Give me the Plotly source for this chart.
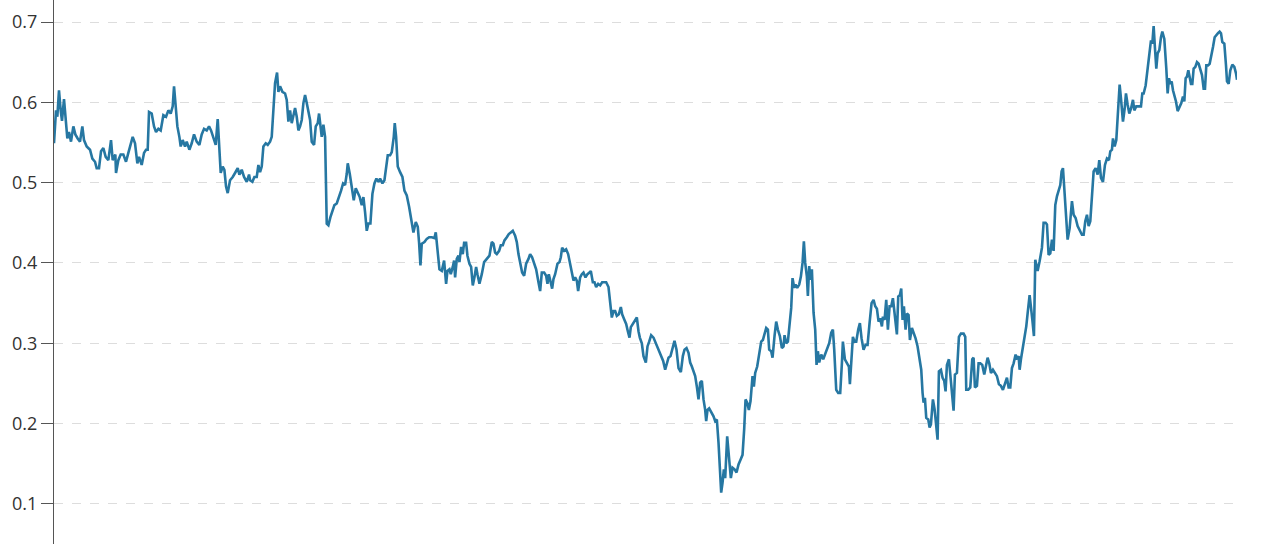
import plotly.graph_objects as go

# ---- data ----
days_1 = [0.0, 1.2, 2.0, 3.0, 4.0, 4.8, 6.0, 7.0, 8.0, 9.0, 10.2, 11.6, 12.8, 14.2, 15.6, 17.0, 18.0, 19.6, 21.6, 23.0,
          24.6, 25.6, 27.0, 28.2, 29.6, 31.0, 32.6, 34.2, 35.2, 36.8, 37.2, 38.6, 40.0, 41.6, 43.2, 44.6, 45.6, 47.2, 48.6, 50.0,
          51.0, 52.6, 54.0, 55.2, 56.2, 57.0, 58.6, 60.0, 61.2, 62.6, 64.0, 65.6, 67.2, 68.6, 70.0, 71.2, 72.0, 73.0, 74.0, 75.2,
          76.0, 77.2, 78.6, 79.6, 81.2, 82.6, 84.0, 85.6, 87.2, 88.6, 90.0, 91.6, 93.0, 94.2, 95.6, 97.0, 98.2, 99.2, 100.0, 101.2,
          102.2, 103.2, 104.2, 105.6, 107.2, 108.6, 110.2, 111.2, 112.6, 114.0, 115.6, 117.0]
vals_1 = [0.549, 0.590, 0.582, 0.615, 0.590, 0.577, 0.604, 0.583, 0.555, 0.563, 0.551, 0.570, 0.560, 0.555, 0.551, 0.570, 0.553, 0.545, 0.541, 0.530,
          0.526, 0.518, 0.518, 0.539, 0.543, 0.532, 0.528, 0.553, 0.528, 0.535, 0.512, 0.528, 0.535, 0.535, 0.526, 0.537, 0.545, 0.557, 0.549, 0.524,
          0.532, 0.522, 0.537, 0.541, 0.541, 0.588, 0.586, 0.570, 0.563, 0.567, 0.565, 0.584, 0.582, 0.590, 0.586, 0.595, 0.620, 0.590, 0.570, 0.557,
          0.545, 0.553, 0.545, 0.551, 0.541, 0.549, 0.560, 0.551, 0.547, 0.560, 0.567, 0.565, 0.570, 0.565, 0.557, 0.547, 0.579, 0.545, 0.512, 0.520,
          0.516, 0.495, 0.487, 0.503, 0.507, 0.512, 0.518, 0.510, 0.516, 0.507, 0.501, 0.510]

days_2 = [117.6, 119.0, 120.2, 121.6, 122.6, 123.6, 124.6, 125.6, 127.0, 128.2, 129.6, 130.6, 131.6, 132.6, 133.8, 134.6, 135.6, 137.0, 138.6, 139.6,
          140.6, 141.6, 142.6, 143.6, 144.6, 145.6, 146.6, 147.6, 148.6, 149.6, 150.6, 151.6, 152.6, 153.6, 154.6, 156.0, 157.0, 158.2, 159.0, 159.8,
          160.6, 161.6, 162.6, 163.6, 164.6, 165.8, 167.0, 168.2, 169.6, 171.0, 172.2, 173.4, 174.6, 175.6, 176.2, 177.4, 178.6, 179.8, 181.0, 182.2,
          183.4, 184.6, 185.6, 186.6, 187.6, 188.6, 189.8, 191.0, 192.2, 193.4, 194.6, 195.6, 197.0, 198.2, 199.2, 200.2, 201.6, 202.6, 203.8, 204.4,
          205.2, 206.2, 207.6, 209.0, 210.2, 211.6, 213.0, 214.2, 215.6, 217.0, 218.2, 219.0, 219.8, 220.6, 222.2, 223.6, 225.0, 226.6, 228.2, 229.0,
          230.0, 231.2, 232.6, 233.8]
vals_2 = [0.503, 0.501, 0.507, 0.507, 0.522, 0.513, 0.520, 0.545, 0.549, 0.547, 0.551, 0.557, 0.590, 0.624, 0.637, 0.613, 0.620, 0.613, 0.611, 0.603,
          0.576, 0.590, 0.574, 0.584, 0.593, 0.582, 0.565, 0.570, 0.578, 0.599, 0.609, 0.599, 0.586, 0.578, 0.551, 0.547, 0.570, 0.574, 0.586, 0.574,
          0.557, 0.572, 0.557, 0.449, 0.447, 0.457, 0.465, 0.472, 0.474, 0.482, 0.490, 0.499, 0.497, 0.511, 0.524, 0.511, 0.493, 0.478, 0.493, 0.488,
          0.482, 0.472, 0.482, 0.463, 0.440, 0.449, 0.449, 0.486, 0.499, 0.505, 0.501, 0.505, 0.499, 0.503, 0.520, 0.534, 0.534, 0.538, 0.557, 0.574,
          0.557, 0.520, 0.513, 0.507, 0.490, 0.484, 0.470, 0.457, 0.438, 0.451, 0.445, 0.425, 0.397, 0.424, 0.426, 0.430, 0.432, 0.432, 0.431, 0.438,
          0.415, 0.392, 0.390, 0.403]

days_3 = [234.0, 235.2, 236.0, 237.2, 238.0, 239.2, 240.0, 240.6, 241.6, 242.6, 243.2, 244.2, 245.2, 246.0, 247.2, 248.0, 249.2, 250.2, 251.2, 252.2,
          253.2, 254.0, 255.2, 256.6, 258.0, 259.6, 261.2, 262.6, 263.6, 264.6, 265.6, 267.0, 268.0, 269.2, 270.2, 271.6, 272.8, 274.0, 275.2, 276.6,
          277.6, 278.6, 279.6, 280.8, 282.0, 283.2, 284.6, 285.6, 286.8, 288.0, 289.2, 290.6, 291.6, 292.6, 294.0, 295.2, 296.0, 296.8, 298.0, 298.8,
          299.6, 300.6, 302.0, 303.2, 304.0, 304.8, 306.0, 307.2, 308.4, 309.6, 310.8, 311.6, 312.6, 313.6, 314.4, 315.6, 316.6, 317.6, 318.8, 320.0,
          321.2, 322.0, 323.2, 324.2, 325.2, 326.4, 327.6, 328.8, 330.0, 331.2, 332.6, 333.6, 334.6, 335.6, 336.6, 337.6, 338.8, 340.0, 340.8, 342.0,
          343.2, 344.2, 345.2, 346.0, 347.2, 348.6, 349.6, 350.6, 351.4]
vals_3 = [0.403, 0.374, 0.390, 0.392, 0.386, 0.395, 0.403, 0.382, 0.405, 0.409, 0.401, 0.420, 0.411, 0.425, 0.425, 0.409, 0.399, 0.395, 0.372, 0.382,
          0.395, 0.386, 0.374, 0.386, 0.401, 0.405, 0.409, 0.426, 0.424, 0.413, 0.411, 0.415, 0.422, 0.422, 0.428, 0.432, 0.436, 0.438, 0.440, 0.434,
          0.426, 0.411, 0.399, 0.388, 0.384, 0.399, 0.405, 0.411, 0.407, 0.399, 0.392, 0.376, 0.365, 0.388, 0.388, 0.384, 0.374, 0.386, 0.372, 0.368,
          0.380, 0.386, 0.399, 0.401, 0.407, 0.419, 0.415, 0.417, 0.411, 0.399, 0.384, 0.378, 0.382, 0.378, 0.365, 0.382, 0.386, 0.388, 0.382, 0.386,
          0.388, 0.390, 0.376, 0.376, 0.370, 0.374, 0.372, 0.376, 0.376, 0.376, 0.370, 0.349, 0.332, 0.340, 0.340, 0.334, 0.336, 0.345, 0.336, 0.330,
          0.324, 0.315, 0.307, 0.320, 0.324, 0.328, 0.332, 0.315, 0.307]

days_4 = [352.6, 353.6, 355.0, 356.0, 357.0, 358.2, 359.6, 361.0, 362.2, 363.2, 364.2, 365.4, 366.6, 367.8, 368.6, 369.8, 371.0, 372.2, 373.4, 374.6,
          376.0, 377.2, 378.2, 379.4, 380.6, 381.6, 382.6, 383.8, 384.6, 385.6, 386.6, 387.6, 388.6, 389.6, 390.6, 391.2, 392.0, 393.0, 394.2, 395.6,
          396.6, 397.6, 398.6, 399.6, 400.2, 401.0, 401.8, 402.6, 403.8, 405.0, 406.0, 407.0, 408.2, 409.4, 410.6, 411.8, 413.0, 414.0, 414.8, 415.8,
          416.8, 417.8, 419.0, 419.8, 420.6, 421.8, 423.0, 424.2, 425.2, 426.2, 427.2, 428.2, 429.0, 430.2, 431.0, 432.2, 433.2, 434.2, 435.4, 436.6,
          437.6, 438.2, 439.2, 440.2, 441.2, 442.2, 443.0, 444.0, 444.8, 445.8, 447.0, 448.0, 449.0, 449.8, 450.6, 451.6, 452.2, 453.0, 453.8, 454.6,
          455.6, 456.6, 457.4, 458.2, 459.0, 460.2, 461.4, 462.6, 463.8, 465.0, 466.2, 467.2]
vals_4 = [0.300, 0.284, 0.276, 0.296, 0.302, 0.310, 0.307, 0.300, 0.294, 0.290, 0.284, 0.278, 0.267, 0.276, 0.282, 0.284, 0.294, 0.303, 0.292, 0.269,
          0.264, 0.284, 0.292, 0.294, 0.288, 0.276, 0.271, 0.263, 0.259, 0.246, 0.230, 0.251, 0.253, 0.230, 0.217, 0.203, 0.217, 0.219, 0.215, 0.209,
          0.203, 0.205, 0.176, 0.139, 0.114, 0.126, 0.143, 0.132, 0.184, 0.155, 0.132, 0.145, 0.143, 0.139, 0.149, 0.155, 0.161, 0.193, 0.230, 0.226,
          0.217, 0.228, 0.259, 0.246, 0.263, 0.271, 0.288, 0.302, 0.304, 0.313, 0.319, 0.317, 0.292, 0.290, 0.282, 0.309, 0.327, 0.317, 0.309, 0.294,
          0.296, 0.310, 0.300, 0.302, 0.325, 0.344, 0.381, 0.369, 0.373, 0.369, 0.373, 0.383, 0.400, 0.427, 0.400, 0.383, 0.359, 0.396, 0.379, 0.392,
          0.338, 0.317, 0.273, 0.290, 0.276, 0.286, 0.280, 0.286, 0.292, 0.300, 0.313, 0.317]

days_5 = [468.0, 469.2, 470.4, 471.6, 472.6, 473.2, 474.4, 475.6, 476.8, 477.4, 478.2, 479.2, 480.2, 481.2, 482.4, 483.4, 484.4, 485.6, 486.8, 488.0,
          489.2, 490.4, 491.6, 492.6, 493.6, 494.6, 495.6, 496.6, 497.2, 498.2, 499.2, 500.2, 501.2, 502.2, 503.2, 504.0, 505.0, 505.6, 506.4, 507.4,
          508.2, 509.0, 509.8, 510.8, 511.6, 512.6, 513.4, 514.6, 515.6, 516.8, 518.0, 519.2, 520.2, 521.0, 521.6, 522.4, 523.2, 524.4, 525.2, 526.0,
          527.2, 528.2, 529.2, 530.0, 530.8, 532.0, 533.0, 534.0, 534.8, 535.6, 536.8, 538.0, 538.8, 539.6, 540.4, 541.6, 542.8, 544.0, 545.6, 546.6,
          547.2, 548.4, 549.6, 550.8, 551.6, 552.4, 553.6, 554.6, 555.6, 556.8, 558.0, 559.0, 560.0, 561.0, 562.0, 563.2, 564.4, 565.6, 566.8, 568.0,
          569.2, 570.2, 571.6, 572.6, 573.6, 574.6, 575.6, 576.8, 577.6, 578.6, 579.2, 580.0, 581.2, 582.2, 583.2, 584.2, 585.2, 586.8, 587.8]
vals_5 = [0.292, 0.242, 0.238, 0.238, 0.275, 0.302, 0.280, 0.275, 0.271, 0.249, 0.271, 0.308, 0.302, 0.302, 0.317, 0.325, 0.306, 0.292, 0.298, 0.298,
          0.325, 0.350, 0.354, 0.346, 0.343, 0.327, 0.331, 0.321, 0.333, 0.329, 0.354, 0.317, 0.346, 0.346, 0.356, 0.341, 0.327, 0.311, 0.358, 0.360,
          0.368, 0.329, 0.346, 0.317, 0.337, 0.335, 0.304, 0.319, 0.313, 0.306, 0.296, 0.280, 0.267, 0.238, 0.226, 0.232, 0.207, 0.205, 0.195, 0.199,
          0.230, 0.218, 0.197, 0.180, 0.265, 0.267, 0.257, 0.253, 0.240, 0.273, 0.280, 0.255, 0.242, 0.216, 0.261, 0.263, 0.308, 0.312, 0.312, 0.308,
          0.242, 0.242, 0.245, 0.280, 0.282, 0.245, 0.247, 0.275, 0.275, 0.273, 0.261, 0.271, 0.282, 0.275, 0.263, 0.267, 0.263, 0.259, 0.249, 0.247,
          0.242, 0.249, 0.257, 0.245, 0.245, 0.269, 0.275, 0.286, 0.280, 0.284, 0.267, 0.280, 0.296, 0.308, 0.321, 0.341, 0.360, 0.330, 0.309]

days_6 = [588.6, 590.0, 591.2, 592.6, 593.6, 594.8, 595.6, 596.6, 597.6, 598.6, 599.6, 600.6, 601.6, 602.6, 603.6, 604.4, 605.2, 606.0, 606.8, 608.0,
          609.2, 610.6, 611.6, 612.8, 614.0, 615.2, 616.6, 617.6, 618.6, 619.6, 620.6, 621.6, 622.6, 623.6, 624.8, 626.0, 627.0, 628.0, 629.2, 630.4,
          631.6, 632.8, 633.6, 634.6, 635.2, 636.2, 637.2, 638.0, 638.8, 639.2, 640.0, 641.2, 642.2, 643.0, 644.0, 645.0, 646.0, 647.2, 648.0, 649.2,
          650.6, 652.0, 652.8, 653.6, 654.8, 655.6, 656.4, 657.2, 658.0, 658.8, 659.6, 660.4, 661.2, 662.0, 663.0, 664.0, 664.8, 666.0, 666.6, 667.2,
          668.0, 668.8, 669.6, 670.4, 671.2, 672.0, 673.0, 674.0, 675.2, 676.2, 677.2, 678.0, 678.8, 679.6, 680.4, 681.2, 682.0, 682.8, 683.6, 684.6,
          685.6, 686.6, 687.6, 688.6, 689.6, 690.4, 691.2, 692.2, 693.2, 694.2, 695.2, 696.2, 697.2, 698.2, 699.2, 700.0, 700.8, 702.0, 703.0, 703.6,
          704.6, 705.6, 706.8, 708.0, 709.0, 709.6]
vals_6 = [0.404, 0.390, 0.402, 0.419, 0.450, 0.450, 0.448, 0.410, 0.412, 0.429, 0.415, 0.472, 0.483, 0.489, 0.497, 0.514, 0.518, 0.493, 0.460, 0.429,
          0.443, 0.477, 0.460, 0.456, 0.446, 0.441, 0.435, 0.435, 0.452, 0.460, 0.446, 0.452, 0.489, 0.514, 0.518, 0.510, 0.528, 0.506, 0.501, 0.522,
          0.530, 0.528, 0.539, 0.541, 0.555, 0.545, 0.553, 0.584, 0.613, 0.622, 0.605, 0.576, 0.592, 0.611, 0.597, 0.586, 0.592, 0.603, 0.590, 0.595,
          0.595, 0.595, 0.611, 0.611, 0.621, 0.634, 0.650, 0.667, 0.677, 0.673, 0.695, 0.667, 0.642, 0.661, 0.665, 0.681, 0.688, 0.679, 0.663, 0.642,
          0.611, 0.630, 0.623, 0.626, 0.615, 0.609, 0.601, 0.589, 0.595, 0.599, 0.607, 0.601, 0.630, 0.632, 0.640, 0.630, 0.623, 0.623, 0.642, 0.644,
          0.650, 0.648, 0.642, 0.634, 0.617, 0.617, 0.646, 0.646, 0.648, 0.657, 0.669, 0.681, 0.684, 0.686, 0.688, 0.686, 0.675, 0.673, 0.646, 0.626,
          0.623, 0.640, 0.647, 0.644, 0.636, 0.628]

y_ticks = [0.1, 0.2, 0.3, 0.4, 0.5, 0.6, 0.7]
y_tick_labels = ["0.1", "0.2", "0.3", "0.4", "0.5", "0.6", "0.7"]

day_segments = [days_1, days_2, days_3, days_4, days_5, days_6]
val_segments = [vals_1, vals_2, vals_3, vals_4, vals_5, vals_6]
days, values = [], []
for d, v in zip(day_segments, val_segments):
    assert len(d) == len(v), (len(d), len(v))
    days += d
    values += v

fig = go.Figure(go.Scatter(
    x=days, y=values, mode="lines",
    line=dict(color="#2677a2", width=2.6),
    hoverinfo="skip",
))

fig.update_layout(
    width=1280, height=544,
    margin=dict(l=54, r=43, t=0, b=0),
    paper_bgcolor="white", plot_bgcolor="white",
    showlegend=False,
    font=dict(family="Open Sans, Noto Sans, sans-serif", color="#333333"),
)
fig.update_xaxes(
    range=[min(days), max(days)],
    showgrid=False, zeroline=False, showline=False,
    showticklabels=False, ticks="",
)
fig.update_yaxes(
    range=[0.05, 0.7274],
    tickvals=y_ticks, ticktext=y_tick_labels,
    showgrid=True, gridcolor="#dddddd", griddash="dash", gridwidth=1,
    zeroline=False,
    showline=True, linecolor="#555555", linewidth=1.2,
    ticks="outside", ticklen=12, tickcolor="#555555", tickwidth=1.2,
    tickfont=dict(size=18, color="#333333"),
)

fig.write_html("out.html", config={"displayModeBar": False},
               post_script="document.body.style.margin='0';")
